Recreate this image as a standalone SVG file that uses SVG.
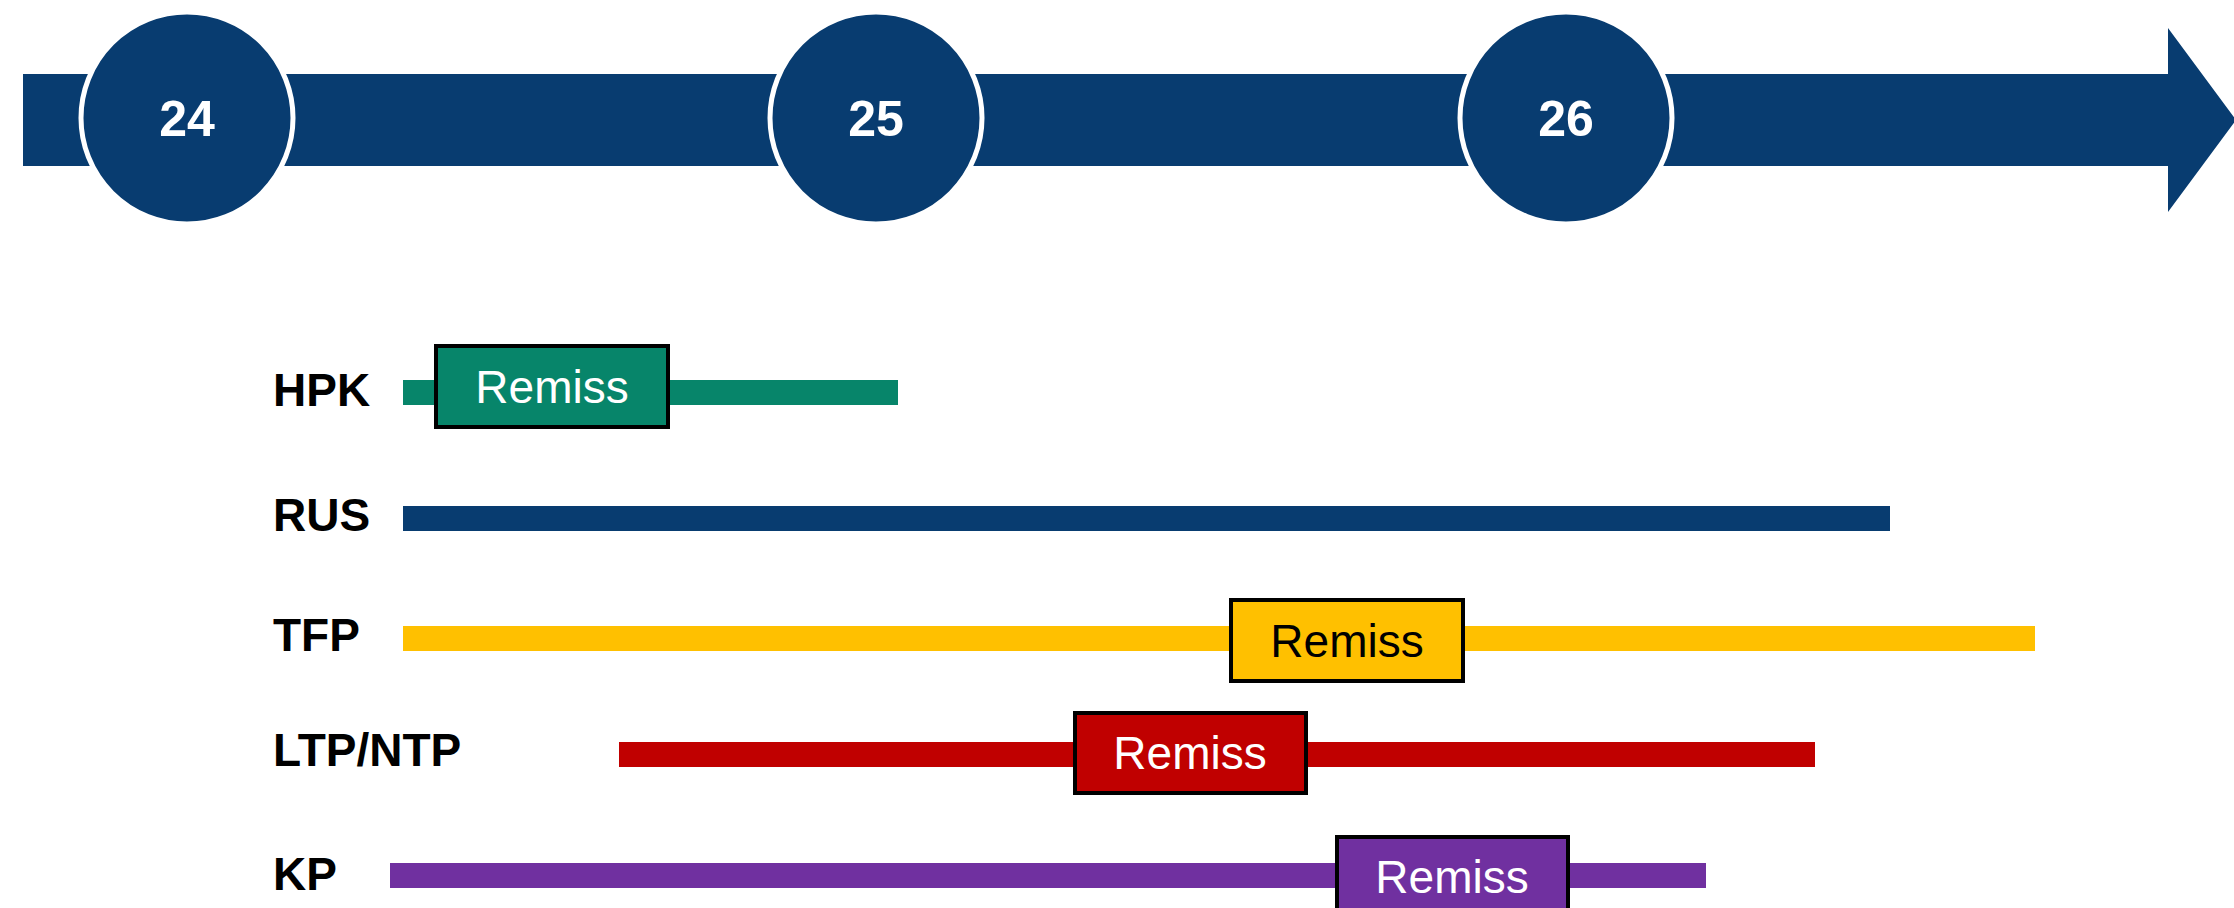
<svg xmlns="http://www.w3.org/2000/svg" width="2234" height="908" viewBox="0 0 2234 908">
<style>
.circ{fill:#083C70;stroke:#fff;stroke-width:5}
.num{font-family:"Liberation Sans",Arial,sans-serif;font-weight:bold;font-size:50px;fill:#fff;text-anchor:middle}
.lbl{font-family:"Liberation Sans",Arial,sans-serif;font-weight:bold;font-size:46px;fill:#000}
.box{stroke:#000;stroke-width:4}
.rem{font-family:"Liberation Sans",Arial,sans-serif;font-size:46px;text-anchor:middle}
</style>
<g id="timeline">
<polygon points="23,74 2168,74 2168,28 2236,120 2168,212 2168,166 23,166" fill="#083C70"/>
</g>
<g id="year24"><circle class="circ" cx="187" cy="118" r="106"/><text class="num" x="187" y="136">24</text></g>
<g id="year25"><circle class="circ" cx="876" cy="118" r="106"/><text class="num" x="876" y="136">25</text></g>
<g id="year26"><circle class="circ" cx="1566" cy="118" r="106"/><text class="num" x="1566" y="136">26</text></g>
<g id="HPK">
<text class="lbl" x="273" y="406">HPK</text>
<rect x="403" y="380" width="495" height="25" fill="#07856A"/>
<rect class="box" x="436" y="346" width="232" height="81" fill="#07856A"/>
<text class="rem" x="552" y="403" fill="#fff">Remiss</text>
</g>
<g id="RUS">
<text class="lbl" x="273" y="531">RUS</text>
<rect x="403" y="506" width="1487" height="25" fill="#083C70"/>
</g>
<g id="TFP">
<text class="lbl" x="273" y="651">TFP</text>
<rect x="403" y="626" width="1632" height="25" fill="#FFC000"/>
<rect class="box" x="1231" y="600" width="232" height="81" fill="#FFC000"/>
<text class="rem" x="1347" y="657" fill="#000">Remiss</text>
</g>
<g id="LTP_NTP">
<text class="lbl" x="273" y="766">LTP/NTP</text>
<rect x="619" y="742" width="1196" height="25" fill="#C00000"/>
<rect class="box" x="1075" y="713" width="231" height="80" fill="#C00000"/>
<text class="rem" x="1190" y="769" fill="#fff">Remiss</text>
</g>
<g id="KP">
<text class="lbl" x="273" y="890">KP</text>
<rect x="390" y="863" width="1316" height="25" fill="#7030A0"/>
<rect class="box" x="1337" y="837" width="231" height="80" fill="#7030A0"/>
<text class="rem" x="1452" y="893" fill="#fff">Remiss</text>
</g>
<g id="connectors"></g>
</svg>
